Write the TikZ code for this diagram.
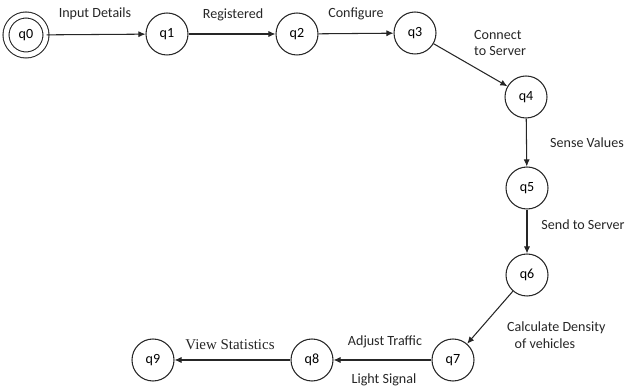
\documentclass[tikz,border=0pt]{standalone}
\usepackage{fontspec}
\setmainfont{Carlito}
\newfontfamily\viewfont{Liberation Serif}
\usetikzlibrary{arrows.meta}

\begin{document}
\begin{tikzpicture}[
                    font=\fontsize{8}{9.5}\selectfont,
                    state/.style={circle, draw=black!85, line width=0.6pt, minimum size=0.84cm, inner sep=0pt},
                    start/.style={state, double, double distance=2.8pt, minimum size=0.8cm},
                    move/.style={draw=black!85, line width=0.6pt, -{Latex[length=4pt,width=3.5pt]}},
                    lbl/.style={text=black!85}
                ]

                \useasboundingbox (0,0) rectangle (12.5,7.8);

                % top row
                \node[start] (q0) at (0.52,7.10) {q0};
                \node[state] (q1) at (3.34,7.12) {q1};
                \node[state] (q2) at (5.94,7.12) {q2};
                \node[state] (q3) at (8.30,7.14) {q3};

                % right column
                \node[state] (q4) at (10.52,5.86) {q4};
                \node[state] (q5) at (10.54,4.04) {q5};
                \node[state] (q6) at (10.54,2.30) {q6};

                % bottom row
                \node[state] (q7) at (9.06,0.60) {q7};
                \node[state] (q8) at (6.24,0.60) {q8};
                \node[state] (q9) at (3.06,0.60) {q9};

                % transitions
                \draw[move] (q0) -- (q1);
                \draw[move] (q1) -- (q2);
                \draw[move] (q2) -- (q3);
                \draw[move] (q3) -- (q4);
                \draw[move] (q4) -- (q5);
                \draw[move] (q5) -- (q6);
                \draw[move] (q6) -- (q7);
                \draw[move] (q7) -- (q8);
                \draw[move] (q8) -- (q9);

                % labels
                \node[lbl] (l01) at (1.90,7.52) {Input Details};
                \node[lbl] (l12) at (4.66,7.50) {Registered};
                \node[lbl] (l23) at (7.12,7.52) {Configure};
                \node[lbl, anchor=west, align=left] (l34) at (9.36,6.94) {Connect\\to Server};
                \node[lbl] (l45) at (11.74,4.94) {Sense Values};
                \node[lbl] (l56) at (11.66,3.30) {Send to Server};
                \node[lbl, anchor=west, align=left] (l67) at (10.02,1.10) {Calculate Density\\\hspace*{0.15cm}of vehicles};
                \node[lbl] (l78a) at (7.70,0.96) {Adjust Traffic};
                \node[lbl] (l78b) at (7.68,0.20) {Light Signal};
                \node[lbl, font=\viewfont\fontsize{8.5}{10}\selectfont] (l89) at (4.60,0.90) {View Statistics};

            \end{tikzpicture}
\end{document}
